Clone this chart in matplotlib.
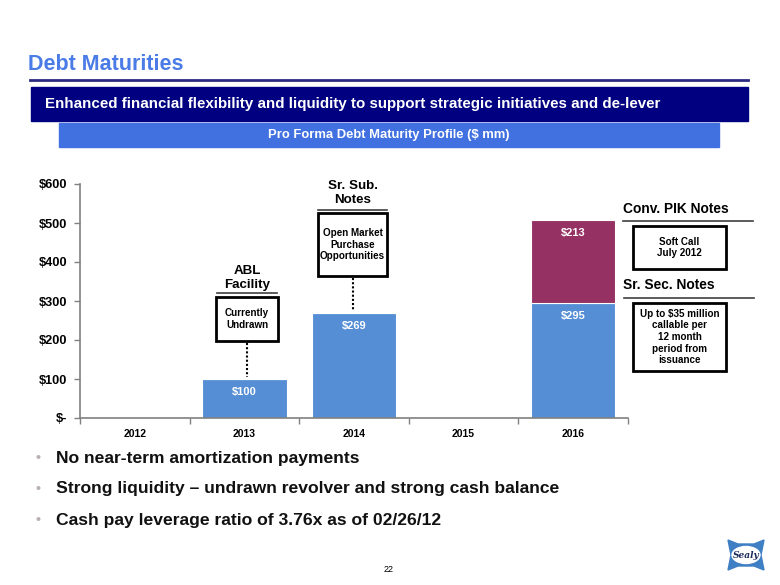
import matplotlib
matplotlib.use('Agg')
import matplotlib.pyplot as plt
from matplotlib.patches import Rectangle, Ellipse, Polygon
from matplotlib.lines import Line2D

plt.rcParams['font.family'] = ['Liberation Sans', 'DejaVu Sans']
plt.rcParams['font.weight'] = 'bold'

# data
years = ['2012', '2013', '2014', '2015', '2016']
sr_notes = [0, 100, 269, 0, 295]     # blue part
pik_notes = [0, 0, 0, 0, 213]        # maroon part on top
y_ticks = [0, 100, 200, 300, 400, 500, 600]
y_labels = ['$-', '$100', '$200', '$300', '$400', '$500', '$600']
bullets = ['No near-term amortization payments',
           'Strong liquidity \u2013 undrawn revolver and strong cash balance',
           'Cash pay leverage ratio of 3.76x as of 02/26/12']

W, H = 780, 585
BLUE = '#558ed5'
MAROON = '#953163'


def fx(x):
    return x / W


def fy(y):
    return 1 - y / H


fig = plt.figure(figsize=(7.8, 5.85), dpi=100)

# header
fig.text(fx(28), fy(65), 'Debt Maturities', color='#4a7be6', fontsize=15.5,
         fontweight='bold', va='center', ha='left')
fig.add_artist(Line2D([fx(30), fx(748)], [fy(80), fy(80)], color='#2a2a80', lw=2))
fig.add_artist(Rectangle((fx(31), fy(121)), fx(717), 34 / H, color='#000080'))
fig.text(fx(45), fy(104), 'Enhanced financial flexibility and liquidity to support strategic initiatives and de-lever',
         color='white', fontsize=10.9, fontweight='bold', va='center')
fig.add_artist(Rectangle((fx(59), fy(147)), fx(660), 24 / H, color='#4170e0'))
fig.text(fx(389), fy(135), 'Pro Forma Debt Maturity Profile ($ mm)', color='white',
         fontsize=9.4, fontweight='bold', va='center', ha='center')

# chart
ax = fig.add_axes([fx(80), fy(418), fx(548), 234 / H])
x = list(range(len(years)))
ax.bar(x, sr_notes, width=0.77, color=BLUE, edgecolor='white', linewidth=0.8)
ax.bar(x, pik_notes, bottom=sr_notes, width=0.77, color=MAROON, edgecolor='white', linewidth=0.8)

for i in x:
    if sr_notes[i] > 0:
        ax.annotate('$%d' % sr_notes[i], (i, sr_notes[i]), xytext=(0, -9.5),
                    textcoords='offset points', ha='center', va='center',
                    color='white', fontsize=8, fontweight='bold')
    if pik_notes[i] > 0:
        ax.annotate('$%d' % pik_notes[i], (i, sr_notes[i] + pik_notes[i]), xytext=(0, -9.5),
                    textcoords='offset points', ha='center', va='center',
                    color='white', fontsize=8, fontweight='bold')

ax.set_xlim(-0.5, 4.5)
ax.set_ylim(0, 600)
ax.set_yticks(y_ticks)
ax.set_yticklabels(y_labels, fontsize=9.2, fontweight='bold')
ax.set_xticks(x)
ax.set_xticklabels(years, fontsize=7.5, fontweight='bold')
ax.set_xticks([i - 0.5 for i in range(len(years) + 1)], minor=True)
ax.tick_params(axis='x', which='major', length=0, pad=8)
ax.tick_params(axis='x', which='minor', length=4, color='#808080', width=1)
ax.tick_params(axis='y', length=4, color='#808080', width=1, pad=5)
for s in ['top', 'right']:
    ax.spines[s].set_visible(False)
for s in ['left', 'bottom']:
    ax.spines[s].set_color('#808080')
    ax.spines[s].set_linewidth(1.2)


# annotation boxes
def head(x, y, text, ha='center', fs=9.6):
    fig.text(fx(x), fy(y), text, ha=ha, va='center', fontsize=fs,
             fontweight='bold', linespacing=1.15)


def hline(x0, x1, y):
    fig.add_artist(Line2D([fx(x0), fx(x1)], [fy(y), fy(y)], color='#404040', lw=1.2))


def box(x0, y0, x1, y1, text, fs=7.1):
    fig.add_artist(Rectangle((fx(x0), fy(y1)), (x1 - x0) / W, (y1 - y0) / H,
                             fill=False, edgecolor='black', lw=2))
    fig.text(fx((x0 + x1) / 2), fy((y0 + y1) / 2), text, ha='center', va='center',
             fontsize=fs, fontweight='bold', linespacing=1.2)


def dots(x, y0, y1):
    fig.add_artist(Line2D([fx(x), fx(x)], [fy(y0), fy(y1)], color='black', lw=1.5,
                          linestyle=(0, (1, 1))))


head(247, 278, 'ABL\nFacility')
hline(217, 277, 293)
box(216, 297, 278, 341, 'Currently\nUndrawn')
dots(247, 343, 377)

head(353, 193, 'Sr. Sub.\nNotes')
hline(318, 387, 210)
box(318, 213, 387, 276, 'Open Market\nPurchase\nOpportunities')
dots(353, 278, 311)

head(623, 209, 'Conv. PIK Notes', ha='left', fs=9.9)
hline(623, 753, 221)
box(633, 226, 726, 269, 'Soft Call\nJuly 2012')

head(623, 285, 'Sr. Sec. Notes', ha='left', fs=9.9)
hline(624, 754, 298)
box(633, 303, 726, 371, 'Up to $35 million\ncallable per\n12 month\nperiod from\nissuance')

# bullets
for k, b in enumerate(bullets):
    yy = 458 + k * 31
    fig.text(fx(35), fy(yy), '\u2022', color='#b8b0b0', fontsize=10, va='center')
    fig.text(fx(56), fy(yy), b, fontsize=12.6, fontweight='bold', va='center', color='#111111')

fig.text(fx(389), fy(570), '22', fontsize=6.5, fontweight='normal', ha='center', va='center')

# logo
lax = fig.add_axes([fx(726), fy(572), 40 / W, 34 / H])
lax.set_xlim(0, 40)
lax.set_ylim(0, 34)
lax.axis('off')
lax.add_patch(Polygon([(2, 32), (12, 28), (28, 28), (38, 32), (35, 17), (38, 2),
                       (28, 6), (12, 6), (2, 2), (5, 17)], color='#3f7fc4'))
lax.add_patch(Ellipse((20, 17), 28, 17, color='white'))
lax.text(20, 17, 'Sealy', ha='center', va='center', fontsize=6.5, style='italic',
         fontweight='bold', color='#1a2a5a', family='DejaVu Serif')

fig.savefig('out.png', dpi=100)
